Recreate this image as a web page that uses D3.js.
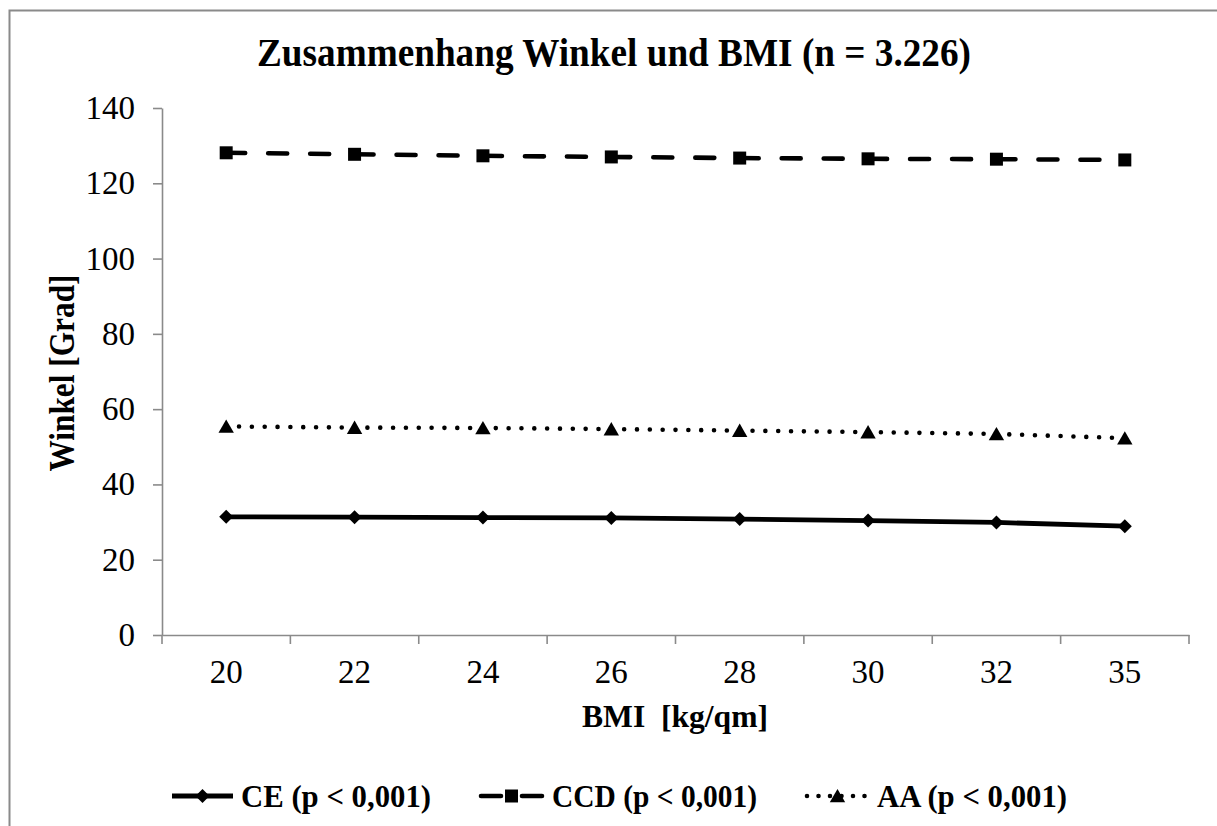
<!DOCTYPE html>
<html>
<head>
<meta charset="utf-8">
<script src="https://cdn.jsdelivr.net/npm/d3@7"></script>
<style>
  html, body { margin: 0; padding: 0; background: #fff; }
  svg { display: block; font-family: "Liberation Serif", "Times New Roman", serif; }
</style>
</head>
<body>
<svg id="chart" width="1217" height="826"></svg>
<script>
// BMI classes on the x axis
const categories = ["20", "22", "24", "26", "28", "30", "32", "35"];
// mean angles per BMI class (degrees)
const ceValues  = [31.4, 31.3, 31.2, 31.1, 30.8, 30.4, 29.9, 28.9];
const ccdValues = [128.1, 127.7, 127.3, 127.0, 126.7, 126.5, 126.4, 126.2];
const aaValues  = [55.4, 55.1, 55.0, 54.7, 54.3, 53.9, 53.4, 52.3];
const yTicks = [0, 20, 40, 60, 80, 100, 120, 140];
const seriesNames = ["CE (p < 0,001)", "CCD (p < 0,001)", "AA (p < 0,001)"];

const svg = d3.select("#chart");
const axisColor = "#8a8a8a";

// outer chart frame
svg.append("rect")
  .attr("x", 9.5).attr("y", 10.5)
  .attr("width", 1260).attr("height", 900)
  .attr("fill", "none").attr("stroke", axisColor).attr("stroke-width", 2);

const x = d3.scaleBand().domain(categories).range([162, 1189]).padding(0);
const y = d3.scaleLinear().domain([0, 140]).range([635, 108]);
const cx = c => x(c) + x.bandwidth() / 2;

// title
svg.append("text")
  .attr("x", 614).attr("y", 66)
  .attr("text-anchor", "middle")
  .attr("font-size", 40).attr("font-weight", "bold")
  .attr("textLength", 714).attr("lengthAdjust", "spacingAndGlyphs")
  .text("Zusammenhang Winkel und BMI (n = 3.226)");

// y axis
const yAxis = svg.append("g")
  .attr("transform", "translate(162,0)")
  .call(d3.axisLeft(y).tickValues(yTicks).tickSize(9).tickSizeOuter(0).tickPadding(18));
yAxis.selectAll("path, line").attr("stroke", axisColor).attr("stroke-width", 1.6);
yAxis.selectAll("text").attr("font-size", 33).attr("fill", "#000")
  .attr("font-family", "Liberation Serif, serif");

// x axis: labels centred in each band, ticks on band boundaries
const xAxis = svg.append("g")
  .attr("transform", "translate(0,635)")
  .call(d3.axisBottom(x).tickSize(0).tickSizeOuter(0).tickPadding(25));
xAxis.select("path").attr("stroke", axisColor).attr("stroke-width", 1.6);
xAxis.selectAll("text").attr("font-size", 33).attr("fill", "#000")
  .attr("font-family", "Liberation Serif, serif");
const boundaries = categories.map(c => x(c)).concat([x.range()[1]]);
xAxis.selectAll("line.bound").data(boundaries).join("line")
  .attr("class", "bound")
  .attr("x1", d => d).attr("x2", d => d)
  .attr("y1", 0).attr("y2", 9)
  .attr("stroke", axisColor).attr("stroke-width", 1.6);

// axis titles
svg.append("text")
  .attr("transform", "translate(74,373) rotate(-90)")
  .attr("text-anchor", "middle")
  .attr("font-size", 36).attr("font-weight", "bold")
  .attr("textLength", 197).attr("lengthAdjust", "spacingAndGlyphs")
  .text("Winkel [Grad]");
svg.append("text")
  .attr("x", 675).attr("y", 727)
  .attr("text-anchor", "middle")
  .attr("font-size", 32).attr("font-weight", "bold")
  .attr("textLength", 186).attr("lengthAdjust", "spacingAndGlyphs")
  .text("BMI\u00A0\u00A0[kg/qm]");

// marker shapes
const diamond = s => `M0,${-s/2}L${s/2},0L0,${s/2}L${-s/2},0Z`;
const square = s => `M${-s/2},${-s/2}h${s}v${s}h${-s}Z`;
const triangle = s => `M0,${-s*0.5}L${s*0.55},${s*0.45}L${-s*0.55},${s*0.45}Z`;

const series = [
  { name: seriesNames[0], values: ceValues, dash: null, cap: "butt", width: 4.8, marker: diamond, msize: 14 },
  { name: seriesNames[1], values: ccdValues, dash: "19,23", cap: "round", width: 4.6, marker: square, msize: 13 },
  { name: seriesNames[2], values: aaValues, dash: "0,12.84", cap: "round", width: 4.6, marker: triangle, msize: 14 }
];

const plot = svg.append("g");
series.forEach(s => {
  const pts = categories.map((c, i) => [cx(c), y(s.values[i])]);
  const g = plot.append("g");
  if (s.dash) {
    // dash pattern restarts at every data point
    const segs = d3.pairs(pts);
    g.selectAll("line").data(segs).join("line")
      .attr("x1", d => d[0][0]).attr("y1", d => d[0][1])
      .attr("x2", d => d[1][0]).attr("y2", d => d[1][1])
      .attr("stroke", "#000").attr("stroke-width", s.width)
      .attr("stroke-linecap", s.cap).attr("stroke-dasharray", s.dash);
  } else {
    g.append("path")
      .attr("d", d3.line()(pts))
      .attr("fill", "none").attr("stroke", "#000")
      .attr("stroke-width", s.width).attr("stroke-linejoin", "round");
  }
  g.selectAll("path.m").data(pts).join("path")
    .attr("class", "m")
    .attr("transform", d => `translate(${d[0]},${d[1]})`)
    .attr("d", s.marker(s.msize))
    .attr("fill", "#000");
});

// legend
const legendItems = [
  { s: series[0], x0: 172, x1: 233, tx: 241, tw: 190, dash: null },
  { s: series[1], x0: 481, x1: 542, tx: 552, tw: 205, dash: "20,21" },
  { s: series[2], x0: 807, x1: 868, tx: 877, tw: 190, dash: "0,11.5" }
];
const legend = svg.append("g");
legendItems.forEach(it => {
  const ly = 796;
  legend.append("line")
    .attr("x1", it.x0).attr("x2", it.x1).attr("y1", ly).attr("y2", ly)
    .attr("stroke", "#000").attr("stroke-width", it.s.width)
    .attr("stroke-linecap", it.s.cap)
    .attr("stroke-dasharray", it.dash);
  legend.append("path")
    .attr("transform", `translate(${(it.x0 + it.x1) / 2},${ly})`)
    .attr("d", it.s.marker(it.s.msize))
    .attr("fill", "#000");
  legend.append("text")
    .attr("x", it.tx).attr("y", ly + 11)
    .attr("font-size", 31).attr("font-weight", "bold")
    .attr("textLength", it.tw).attr("lengthAdjust", "spacingAndGlyphs")
    .text(it.s.name);
});
</script>
</body>
</html>
